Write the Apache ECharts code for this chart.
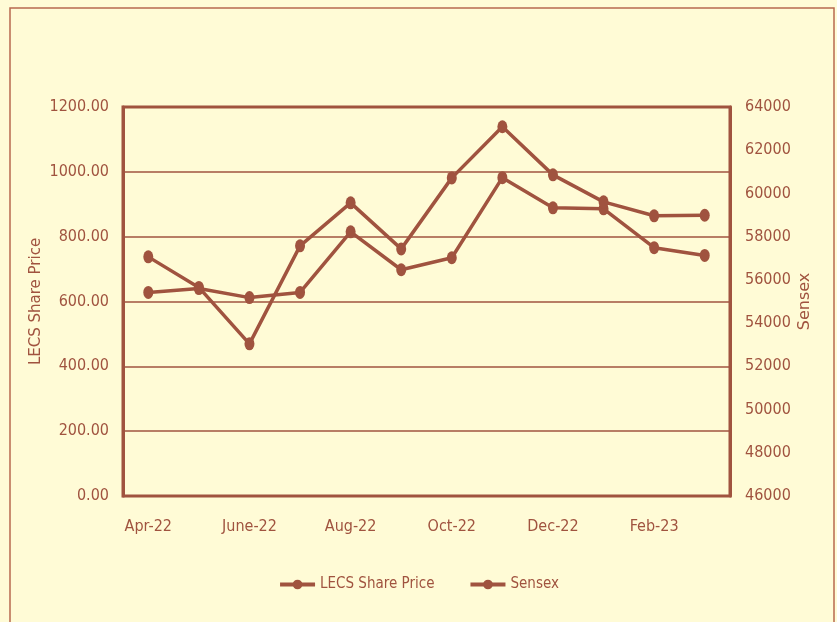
<!DOCTYPE html>
<html>
<head>
<meta charset="utf-8">
<script src="https://cdn.jsdelivr.net/npm/echarts@6/dist/echarts.min.js"></script>
<style>
  html, body { margin: 0; padding: 0; background: #fffbd6; }
  #chart { width: 837px; height: 622px; }
</style>
</head>
<body>
<div id="chart"></div>
<script>
// months shown on the category axis (labels drawn every other month)
const months = ["Apr-22", "May-22", "June-22", "July-22", "Aug-22", "Sep-22",
  "Oct-22", "Nov-22", "Dec-22", "Jan-23", "Feb-23", "Mar-23"];

const lecsPrice = [628, 640, 612, 628, 815, 698, 735, 982, 889, 886, 766, 742];
const sensex = [57065, 55650, 53040, 57575, 59565, 57435, 60720, 63085, 60860, 59610, 58965, 58990];

const leftTicks = { min: 0, max: 1200, step: 200 };
const rightTicks = { min: 46000, max: 64000, step: 2000 };

const brown = "#a0533f";
const narrow = "'Liberation Sans Narrow', 'DejaVu Sans Condensed', sans-serif";

const chart = echarts.init(document.getElementById("chart"));

chart.setOption({
  backgroundColor: "#fffbd6",
  animation: false,
  graphic: [{
    type: "rect",
    shape: { x: 10, y: 8, width: 824, height: 640 },
    style: { fill: "none", stroke: "#b8694f", lineWidth: 1.5 },
    silent: true
  }],
  grid: {
    left: 123, right: 107, top: 107, bottom: 126,
    show: true, borderColor: brown, borderWidth: 3, backgroundColor: "transparent"
  },
  legend: {
    top: 572,
    left: "center",
    itemWidth: 35,
    itemHeight: 12,
    itemGap: 34,
    lineStyle: { width: 4 },
    textStyle: { color: brown, fontFamily: narrow, fontSize: 15 },
    data: ["LECS Share Price", "Sensex"]
  },
  xAxis: {
    type: "category",
    data: months,
    axisLine: { lineStyle: { color: brown, width: 2 } },
    axisTick: { show: false },
    axisLabel: {
      interval: 1, color: brown, fontFamily: narrow, fontSize: 16, margin: 23
    }
  },
  yAxis: [{
    type: "value",
    min: leftTicks.min, max: leftTicks.max, interval: leftTicks.step,
    name: "LECS Share Price",
    nameLocation: "middle",
    nameRotate: 90,
    nameGap: 79,
    nameMoveOverlap: false,
    nameTextStyle: { color: brown, fontFamily: "'DejaVu Sans', sans-serif", fontSize: 15 },
    axisLine: { show: true, lineStyle: { color: brown, width: 3 } },
    axisTick: { show: false },
    axisLabel: {
      color: brown, fontFamily: narrow, fontSize: 16, margin: 14,
      formatter: v => v.toFixed(2)
    },
    splitLine: { lineStyle: { color: brown, width: 1.5 } }
  }, {
    type: "value",
    position: "right",
    min: rightTicks.min, max: rightTicks.max, interval: rightTicks.step,
    name: "Sensex",
    nameLocation: "middle",
    nameRotate: 90,
    nameGap: 67,
    nameMoveOverlap: false,
    nameTextStyle: { color: brown, fontFamily: "'DejaVu Sans', sans-serif", fontSize: 16 },
    axisLine: { show: true, lineStyle: { color: brown, width: 3 } },
    axisTick: { show: false },
    axisLabel: {
      color: brown, fontFamily: narrow, fontSize: 16, margin: 15,
      formatter: v => String(v)
    },
    splitLine: { show: false }
  }],
  series: [{
    name: "LECS Share Price",
    type: "line",
    data: lecsPrice,
    yAxisIndex: 0,
    symbol: "circle",
    symbolSize: [10, 13],
    color: brown,
    lineStyle: { color: brown, width: 3.5 },
    itemStyle: { color: brown }
  }, {
    name: "Sensex",
    type: "line",
    data: sensex,
    yAxisIndex: 1,
    symbol: "circle",
    symbolSize: [10, 13],
    color: brown,
    lineStyle: { color: brown, width: 3.5 },
    itemStyle: { color: brown }
  }]
});
</script>
</body>
</html>
